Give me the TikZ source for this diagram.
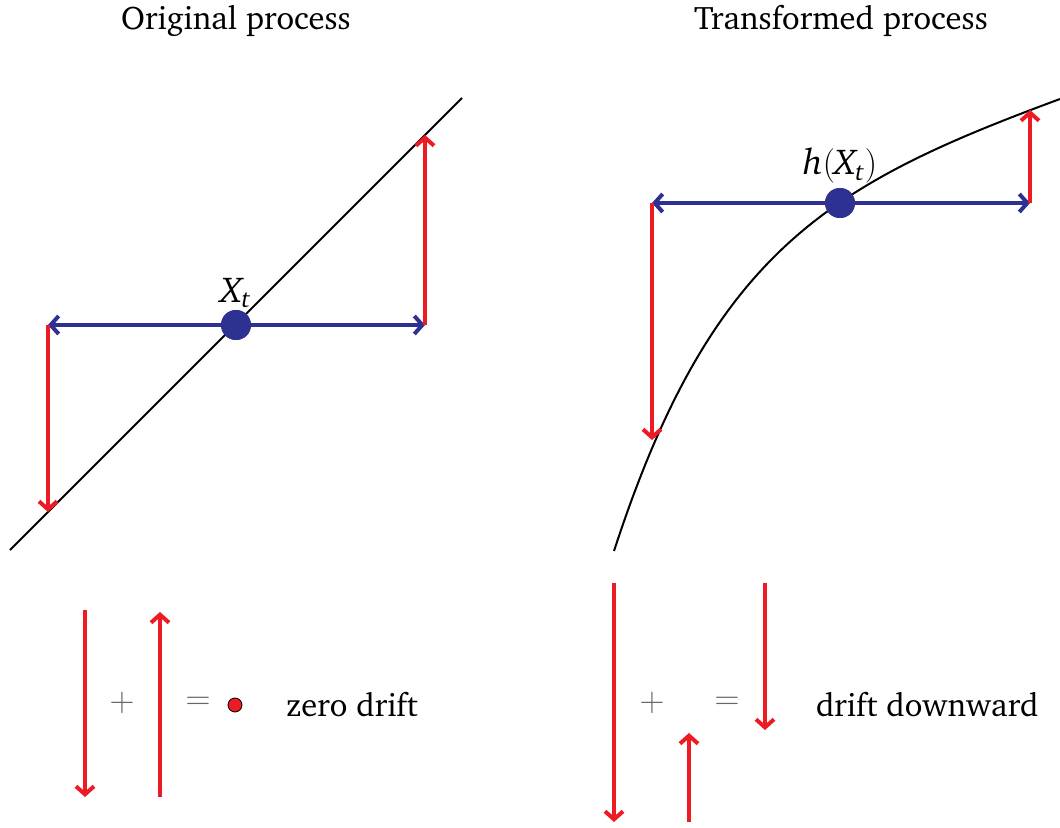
\documentclass[tikz,border=0pt]{standalone}
\usepackage[T1]{fontenc}
\usepackage{charter}
\usepackage{amsmath}
\usetikzlibrary{arrows.meta}
\definecolor{driftred}{RGB}{237,28,36}
\definecolor{noiseblue}{RGB}{46,49,146}
\tikzset{
  redarrow/.style={driftred, line width=2pt, -{Straight Barb[length=4pt,width=9pt]}},
  bluearrow/.style={noiseblue, line width=2pt, -{Straight Barb[length=4pt,width=9pt]}},
  bigdot/.style={circle, fill=noiseblue, minimum size=15pt, inner sep=0pt},
  smalldot/.style={circle, fill=driftred, draw=black, line width=0.4pt, minimum size=7pt, inner sep=0pt},
  opsign/.style={text=black!60, font=\fontsize{19}{21}\selectfont},
  mathlbl/.style={font=\fontsize{18}{20}\selectfont}
}
\begin{document}
\begin{tikzpicture}[x=0.5pt,y=-0.5pt,font=\fontsize{16.3}{19}\selectfont]
\useasboundingbox (0,0) rectangle (1060,828);

% titles
\node (lefttitle) at (236,21) {Original process};
\node (righttitle) at (841,21) {Transformed process};

% original process
\draw[line width=1pt] (10,550) -- (462,98);
\coordinate (xl) at (48,325);
\coordinate (xr) at (425,325);
\coordinate (xlhit) at (48,512);
\coordinate (xrhit) at (425,135);
\node[bigdot] (xt) at (236,325) {};
\node[mathlbl] (xtlabel) at (236,293) {$\textit{X}_{\textit{t}}$};
\draw[bluearrow] (xt) -- (xl);
\draw[bluearrow] (xt) -- (xr);
\draw[redarrow] (xl) -- (xlhit);
\draw[redarrow] (xr) -- (xrhit);
\node[bigdot] at (xt) {};

% transformed process
\draw[line width=1pt] (614,551) .. controls (712,250) and (830,184) .. (1060,99);
\coordinate (hl) at (652,203);
\coordinate (hr) at (1030,203);
\coordinate (hlhit) at (652,440);
\coordinate (hrhit) at (1030,110);
\node[bigdot] (ht) at (840,203) {};
\node[mathlbl] (htlabel) at (840,166) {$\textit{h}(\textit{X}_{\textit{t}})$};
\draw[bluearrow] (ht) -- (hl);
\draw[bluearrow] (ht) -- (hr);
\draw[redarrow] (hl) -- (hlhit);
\draw[redarrow] (hr) -- (hrhit);
\node[bigdot] at (ht) {};

% zero drift sum
\draw[redarrow] (85,610) -- (85,797);
\node[opsign] (plusa) at (122,703) {$+$};
\draw[redarrow] (160,797) -- (160,612);
\node[opsign] (eqa) at (198,703) {$=$};
\node[smalldot] (zerodot) at (235,705) {};
\node[anchor=west] (zerotext) at (279,705) {zero drift};

% downward drift sum
\draw[redarrow] (614,583) -- (614,822);
\node[opsign] (plusb) at (652,703) {$+$};
\draw[redarrow] (689,822) -- (689,733);
\node[opsign] (eqb) at (727,703) {$=$};
\draw[redarrow] (765,583) -- (765,730);
\node[anchor=west] (downtext) at (809,705) {drift downward};
\end{tikzpicture}
\end{document}
